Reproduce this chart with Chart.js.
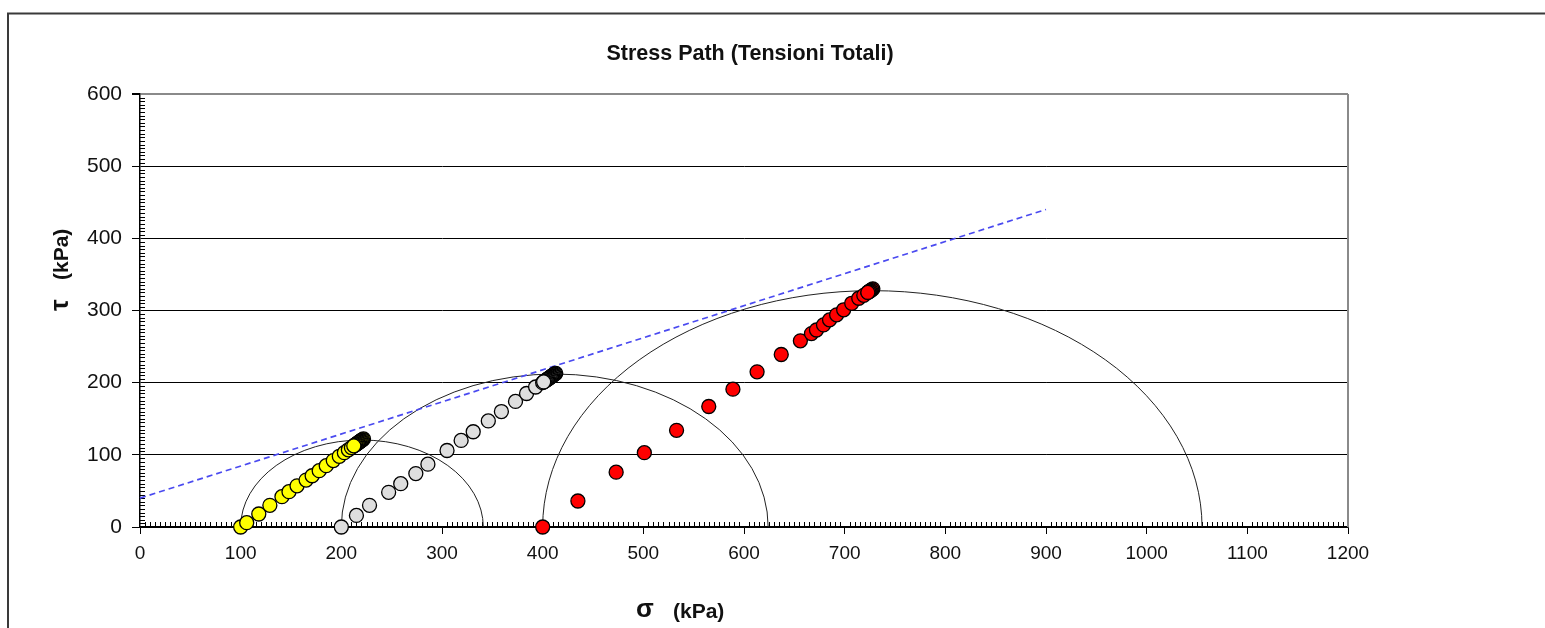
<!DOCTYPE html>
<html>
<head>
<meta charset="utf-8">
<script src="https://cdn.jsdelivr.net/npm/chart.js@4.4.1/dist/chart.umd.min.js"></script>
<style>
html,body{margin:0;padding:0;background:#fff;}
#wrap{width:1545px;height:628px;position:relative;overflow:hidden;}
canvas{display:block;}
</style>
</head>
<body>
<div id="wrap"><canvas id="c" width="1545" height="628"></canvas></div>
<script>
// ---- Text ----
const chartTitle = 'Stress Path (Tensioni Totali)';
const xTitleSymbol = 'σ';
const yTitleSymbol = 'τ';
const unitLabel = '(kPa)';

// ---- Tick labels ----
const xTickValues = [0, 100, 200, 300, 400, 500, 600, 700, 800, 900, 1000, 1100, 1200];
const yTickValues = [0, 100, 200, 300, 400, 500, 600];

// ---- Stress path, specimen 1 (yellow): loading up to peak, then post-peak readings ----
const yellowSigma = [100, 106, 118, 129, 141, 148, 156, 165, 171, 178, 185, 192, 198, 203, 207, 210, 213, 216, 219, 222,
                     221.2, 220.4, 219.6, 218.8, 218, 217.2, 216.4, 215.6, 214.8, 214, 213.2, 212.4];
const yellowTau   = [0,   6,   18,  30,  42,  49,  57,  65,  71,  78,  85,  92,  98,  103, 107, 110, 113, 116, 119, 122,
                     121.2, 120.4, 119.6, 118.8, 118, 117.2, 116.4, 115.6, 114.8, 114, 113.2, 112.4];

// ---- Stress path, specimen 2 (grey) ----
const greySigma = [200, 215, 228, 247, 259, 274, 286, 305, 319, 331, 346, 359, 373, 384, 393, 400, 405, 409, 413,
                   412.2, 411.4, 410.6, 409.8, 409, 408.2, 407.4, 406.6, 405.8, 405, 404.2, 403.4, 402.6, 401.8, 401];
const greyTau   = [0,   16,  30,  48,  60,  74,  87,  106, 120, 132, 147, 160, 174, 185, 194, 200, 205, 209, 213,
                   212.2, 211.4, 210.6, 209.8, 209, 208.2, 207.4, 206.6, 205.8, 205, 204.2, 203.4, 202.6, 201.8, 201];

// ---- Stress path, specimen 3 (red) ----
const redSigma = [400, 435, 473, 501, 533, 565, 589, 613, 637, 656, 667, 672, 679, 685, 692, 699, 707, 714, 719, 723, 728,
                  727, 726, 725, 724, 723];
const redTau   = [0,   36,  76,  103, 134, 167, 191, 215, 239, 258, 268, 273, 280, 287, 294, 301, 310, 317, 321, 325, 330,
                  329, 328, 327, 326, 325];

// ---- Failure envelope (dashed) ----
const envelopeSigma = [0, 900];
const envelopeTau   = [40, 440];

// ---- Mohr circles at failure (sigma3, sigma1) ----
const circleSigma3 = [100, 200, 400];
const circleSigma1 = [341, 624, 1055];

const FONT = '"Liberation Sans", Arial, Helvetica, sans-serif';

function pts(xs, ys){ return xs.map((x,i)=>({x:x, y:ys[i]})); }

const extras = {
  id: 'extras',
  beforeDraw(chart){
    const ctx = chart.ctx;
    ctx.save();
    ctx.fillStyle = '#fff';
    ctx.fillRect(0,0,chart.width,chart.height);
    ctx.restore();
  },
  beforeDatasetsDraw(chart){
    const ctx = chart.ctx, xs = chart.scales.x, ys = chart.scales.y, a = chart.chartArea;
    ctx.save();
    // right border of plot area (grey)
    ctx.strokeStyle = '#8a8a8a';
    ctx.lineWidth = 2;
    ctx.beginPath();
    ctx.moveTo(a.right, a.top); ctx.lineTo(a.right, a.bottom);
    ctx.stroke();
    // minor ticks
    ctx.strokeStyle = '#000';
    ctx.lineWidth = 1;
    ctx.beginPath();
    for (let v = 0; v <= xs.max; v += 5){
      if (v % 100 === 0) continue;
      const x = Math.round(xs.getPixelForValue(v)) + 0.5;
      ctx.moveTo(x, a.bottom); ctx.lineTo(x, a.bottom - 5);
    }
    for (let v = 0; v <= ys.max; v += 5){
      if (v % 100 === 0) continue;
      const y = Math.round(ys.getPixelForValue(v)) + 0.5;
      ctx.moveTo(a.left, y); ctx.lineTo(a.left + 5, y);
    }
    ctx.stroke();
    // Mohr circles (upper halves)
    ctx.strokeStyle = '#222';
    ctx.lineWidth = 1;
    for (let i = 0; i < circleSigma3.length; i++){
      const c = (circleSigma3[i] + circleSigma1[i]) / 2;
      const r = (circleSigma1[i] - circleSigma3[i]) / 2;
      const cx = xs.getPixelForValue(c);
      const cy = ys.getPixelForValue(0);
      const rx = xs.getPixelForValue(c + r) - cx;
      const ry = cy - ys.getPixelForValue(r);
      ctx.beginPath();
      ctx.ellipse(cx, cy, rx, ry, 0, Math.PI, 2*Math.PI);
      ctx.stroke();
    }
    ctx.restore();
  },
  afterDraw(chart){
    const ctx = chart.ctx;
    ctx.save();
    // outer frame
    ctx.strokeStyle = '#3a3a3a';
    ctx.lineWidth = 2;
    ctx.beginPath();
    ctx.moveTo(8, 628); ctx.lineTo(8, 13.5); ctx.lineTo(1545, 13.5);
    ctx.stroke();
    // title
    ctx.fillStyle = '#111';
    ctx.textBaseline = 'alphabetic';
    ctx.textAlign = 'center';
    ctx.font = 'bold 21.5px ' + FONT;
    ctx.fillText(chartTitle, 750, 60);
    // x title
    ctx.textAlign = 'left';
    ctx.font = 'bold 26px ' + FONT;
    ctx.fillText(xTitleSymbol, 636, 617);
    ctx.font = 'bold 21px ' + FONT;
    ctx.fillText(unitLabel, 673, 618);
    // y title (rotated)
    ctx.translate(68, 311);
    ctx.rotate(-Math.PI/2);
    ctx.font = 'bold 26px ' + FONT;
    ctx.fillText(yTitleSymbol, 0, 0);
    ctx.font = 'bold 21px ' + FONT;
    ctx.fillText(unitLabel, 31, 0);
    ctx.restore();
  }
};

const pointStyleCommon = {
  showLine: false,
  pointRadius: 7,
  pointHoverRadius: 7,
  pointBorderWidth: 1.3,
  pointBorderColor: '#000',
  borderColor: '#000',
  clip: false
};

new Chart(document.getElementById('c'), {
  type: 'scatter',
  data: {
    datasets: [
      Object.assign({ label: 'Provino 1', data: pts(yellowSigma, yellowTau), backgroundColor: '#ffff00', pointBackgroundColor: '#ffff00' }, pointStyleCommon),
      Object.assign({ label: 'Provino 2', data: pts(greySigma, greyTau), backgroundColor: '#dedede', pointBackgroundColor: '#dedede' }, pointStyleCommon),
      Object.assign({ label: 'Provino 3', data: pts(redSigma, redTau), backgroundColor: '#ff0000', pointBackgroundColor: '#ff0000' }, pointStyleCommon),
      {
        label: 'Inviluppo',
        data: pts(envelopeSigma, envelopeTau),
        showLine: true,
        borderColor: '#4a4af0',
        borderWidth: 1.7,
        borderDash: [6, 4],
        pointRadius: 0,
        pointHoverRadius: 0,
        fill: false,
        clip: false
      }
    ]
  },
  options: {
    responsive: false,
    animation: false,
    events: [],
    layout: { padding: { left: 0, top: 94, right: 197, bottom: 0 } },
    plugins: {
      legend: { display: false },
      title: { display: false },
      tooltip: { enabled: false }
    },
    scales: {
      x: {
        type: 'linear',
        min: 0, max: 1200,
        afterFit(s){ s.height = 101; },
        afterBuildTicks(s){ s.ticks = xTickValues.map(v => ({ value: v })); },
        grid: { drawOnChartArea: false, drawTicks: true, tickLength: 7, tickColor: '#000', tickWidth: 1 },
        border: { display: true, color: '#000', width: 1.5 },
        ticks: { color: '#111', padding: 8, maxRotation: 0, autoSkip: false, font: { family: FONT, size: 19 },
                 callback: (v) => String(v) }
      },
      y: {
        type: 'linear',
        min: 0, max: 600,
        afterFit(s){ s.width = 140; },
        afterBuildTicks(s){ s.ticks = yTickValues.map(v => ({ value: v })); },
        grid: {
          drawOnChartArea: true,
          drawTicks: true,
          tickLength: 8,
          tickColor: '#000',
          color: (c) => (c.tick && c.tick.value === 600) ? '#8a8a8a' : '#000',
          lineWidth: (c) => (c.tick && c.tick.value === 600) ? 2 : 1
        },
        border: { display: true, color: '#000', width: 1.5 },
        ticks: { color: '#111', padding: 10, autoSkip: false, font: { family: FONT, size: 21 },
                 callback: (v) => String(v) }
      }
    }
  },
  plugins: [extras]
});
</script>
</body>
</html>
